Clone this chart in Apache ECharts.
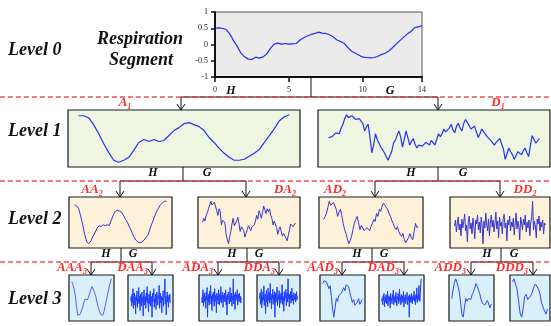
<!DOCTYPE html>
<html>
<head>
<meta charset="utf-8">
<script src="https://cdn.jsdelivr.net/npm/echarts@6/dist/echarts.min.js"></script>
<style>
  html, body { margin: 0; padding: 0; background: #fff; }
  #chart { width: 551px; height: 326px; }
</style>
</head>
<body>
<div id="chart"></div>
<script>
// level 0: respiration segment, x = 0..14 step 0.25
const segment = [0.50,0.51,0.50,0.46,0.33,0.12,-0.05,-0.26,-0.38,-0.45,-0.46,-0.39,-0.42,-0.38,-0.29,-0.12,
  0.01,0.04,0.01,0.03,0.01,0.02,0.03,0.14,0.21,0.26,0.31,0.34,0.38,0.35,0.34,0.30,0.23,0.14,0.09,0.03,
  -0.10,-0.21,-0.27,-0.33,-0.39,-0.40,-0.41,-0.40,-0.37,-0.31,-0.27,-0.20,-0.10,0.01,0.12,0.22,0.32,0.40,0.52,0.54,0.58];
const xTicks = [0, 5, 10, 14];

// level 1
const A1 = [52,52,50,43,34,24,15,7,5,7,10,17,25,28,26,28,26,27,32,37,40,44,45,43,41,37,30,25,19,14,10,7,7,8,11,14,18,25,32,39,47,51,53];
const D1 = [30,28,31,29,35,33,34,40,44,50,54,51,50,53,52,49,51,50,49,45,37,41,44,30,14,22,34,28,24,20,17,14,12,6,4,15,24,27,25,37,
  31,20,28,37,30,22,26,29,23,19,22,24,21,22,25,24,22,27,25,22,28,34,31,34,39,36,35,40,44,38,35,42,45,40,37,45,49,46,44,39,
  41,42,36,30,34,39,36,34,31,30,27,25,22,25,27,29,30,18,7,13,19,15,12,7,11,15,13,12,16,19,14,10,22,32,28,24,26,29];

// level 2
const AA2 = [46,45,42,34,24,13,5,3,6,11,15,20,23,22,24,23,24,23,29,35,39,40,39,38,34,30,26,21,16,11,7,5,4,5,7,10,13,20,26,32,38,42,46,48,50,50];
const DA2 = [26,30,27,33,36,40,38,48,44,43,47,46,38,33,40,37,23,28,30,25,13,8,3,10,16,24,30,22,20,27,31,24,16,21,23,17,10,14,18,22,
  20,17,21,19,23,27,33,29,38,35,30,36,43,39,35,40,37,40,33,30,23,27,26,20,13,18,21,16,11,14,16,9,6,12,18,24,26,21,23,25];
const AD2 = [30,33,36,42,48,44,45,47,46,40,33,37,40,34,26,20,16,11,6,9,13,20,26,30,33,27,20,24,23,19,18,22,21,19,23,26,30,28,36,33,
  40,38,43,46,45,42,40,36,33,29,26,22,20,23,18,15,13,16,10,7,6,12,16,12,10,18,26,22,23];
const DD2 = [24,30,18,27,33,20,26,14,31,22,28,36,19,25,8,29,34,21,27,16,32,24,11,30,26,35,20,28,17,33,25,6,29,22,37,26,19,31,14,27,
  35,23,30,18,26,38,21,29,12,33,24,28,16,31,36,22,27,9,30,25,34,19,28,23,32,15,26,37,21,29,24,10,33,27,20,31,25,35,18,28,
  22,30,14,27,33,49,20,29,24,12,31,26,34,19,28,23,30,16,27,25];

// level 3
const AAA3 = [41,38,33,26,15,6,4,7,9,14,19,23,22,22,25,29,33,36,34,30,26,20,15,11,7,5,6,10,16,22,28,34,39,44];
const DAA3 = [24,28,19,30,22,35,17,26,31,20,27,12,29,24,33,18,26,22,36,21,28,15,30,25,19,32,23,27,10,29,34,20,25,28,17,31,24,37,22,26,
  14,30,27,21,33,19,28,25,9,31,23,29,35,18,26,22,30,16,27,32,24,20,29,26,38,17,25,31,22,28,13,27,24,33,19,26,30,44,21,28,
  11,25,32,23,29,18,27,24,30,22];
const ADA3 = [26,21,29,33,18,25,30,22,27,16,31,24,35,8,26,22,29,19,32,25,37,20,27,14,29,23,31,26,18,34,22,28,25,12,30,24,27,20,33,26,
  19,29,23,36,21,27,25,31,17,28,24,30,22,26,33,19,27,10,29,24,31,26,20,28,35,22,25,30,18,27,24,43,20,29,26,15,31,23,28,25,
  33,19,26,29,22,30,24,27,21,26];
const DDA3 = [25,30,20,28,33,17,26,22,31,24,36,19,27,29,12,25,32,22,28,18,34,26,23,30,21,38,24,27,16,29,25,33,20,28,23,31,9,26,30,22,
  27,35,19,25,28,24,32,17,29,26,21,30,24,37,20,27,25,14,31,23,28,26,33,19,27,30,22,42,25,28,18,29,24,31,21,26,34,23,28,25,
  20,30,27,24,29,22,26,31,24,27];
const AAD3 = [38,41,43,40,42,33,36,25,12,4,14,23,20,26,24,28,30,34,31,37,39,35,29,24,19,22,16,14,19,23,17,19,22];
const DAD3 = [24,27,21,29,25,31,19,26,28,23,30,22,27,33,20,26,29,24,28,18,31,25,27,22,30,26,34,21,27,24,29,23,32,25,20,28,26,31,22,27,
  35,24,28,21,30,26,23,29,25,33,19,27,24,30,22,28,26,32,21,27,25,29,10,30,24,28,23,31,26,22,29,25,27,33,24,28,21,30,26,36,
  23,29,25,31,38,27,24,32,40,44];
const ADD3 = [23,32,39,44,40,36,29,18,6,3,14,23,20,23,25,22,27,30,34,39,36,32,28,22,18,20,16,14,21,23,13,17];
const DDD3 = [40,43,38,33,22,10,6,14,26,28,23,25,27,30,35,38,36,33,29,20,16,12,9,14];

const serif = '"Liberation Serif", "DejaVu Serif", serif';
const bg1 = '#eef5e1', bg2 = '#fdf2d9', bg3 = '#d9effa';

// [data, left, top, width, height, background, line colour, x padding]
const panels = [
  [A1, 68, 110, 232, 57, bg1, '#2632f2', 0.05],
  [D1, 318, 110, 232, 57, bg1, '#2632f2', 0.05],
  [AA2, 69, 197, 103, 51, bg2, '#3535d0', 0.06],
  [DA2, 198, 197, 102, 51, bg2, '#3535d0', 0.05],
  [AD2, 319, 197, 104, 51, bg2, '#3535d0', 0.05],
  [DD2, 450, 197, 100, 51, bg2, '#3535d0', 0.05],
  [AAA3, 69, 275, 45, 46, bg3, '#4a64ff', 0.07],
  [DAA3, 128, 275, 45, 46, bg3, '#1f3dff', 0.07],
  [ADA3, 199, 275, 45, 46, bg3, '#1f3dff', 0.07],
  [DDA3, 257, 275, 43, 46, bg3, '#1f3dff', 0.07],
  [AAD3, 320, 275, 45, 46, bg3, '#2a48ff', 0.07],
  [DAD3, 379, 275, 45, 46, bg3, '#1f3dff', 0.07],
  [ADD3, 449, 275, 45, 46, bg3, '#2a48ff', 0.07],
  [DDD3, 510, 275, 40, 46, bg3, '#2a48ff', 0.07]
];

const grid = [{
  left: 215, top: 12, width: 207, height: 65, show: true,
  backgroundColor: '#ebebeb', borderColor: '#555', borderWidth: 1
}];
const xAxis = [{
  type: 'value', gridIndex: 0, min: 0, max: 14,
  axisLine: { onZero: false, lineStyle: { color: '#111', width: 2 } },
  axisTick: { length: 5, lineStyle: { color: '#111', width: 1.5 }, customValues: xTicks },
  axisLabel: { fontFamily: serif, fontSize: 8, color: '#222', margin: 9, customValues: xTicks },
  splitLine: { show: false }
}];
const yAxis = [{
  type: 'value', gridIndex: 0, min: -1, max: 1, interval: 0.5,
  axisLine: { show: true, onZero: false, lineStyle: { color: '#111', width: 2 } },
  axisTick: { show: true, length: 4, lineStyle: { color: '#111', width: 1.5 } },
  axisLabel: { fontFamily: serif, fontSize: 8, color: '#222', margin: 7 },
  splitLine: { show: false }
}];
const series = [{
  type: 'line', xAxisIndex: 0, yAxisIndex: 0, showSymbol: false, silent: true,
  data: segment.map((v, i) => [i * 0.25, v]),
  lineStyle: { color: '#1e2cff', width: 1.2 }
}];

panels.forEach((p, k) => {
  const [data, left, top, width, height, bg, color, px] = p;
  const i = k + 1;
  const n = data.length - 1;
  const lo = Math.min(...data), hi = Math.max(...data);
  const pad = (hi - lo) * 0.1;
  grid.push({ left, top, width, height, show: true, backgroundColor: bg, borderColor: '#1a1a1a', borderWidth: 1.2 });
  xAxis.push({ type: 'value', gridIndex: i, min: -n * px, max: n * (1 + px), show: false });
  yAxis.push({ type: 'value', gridIndex: i, min: lo - pad, max: hi + pad, show: false });
  series.push({
    type: 'line', xAxisIndex: i, yAxisIndex: i, showSymbol: false, silent: true,
    data: data.map((v, j) => [j, v]),
    lineStyle: { color, width: i <= 2 ? 1.2 : 1 }
  });
});

// tree connectors and labels
const ink = '#111';
const g = [];
function seg(x1, y1, x2, y2) {
  g.push({ type: 'line', silent: true, shape: { x1, y1, x2, y2 }, style: { stroke: ink, lineWidth: 1 } });
}
function arrow(x, y1, y2) {
  seg(x, y1, x, y2);
  g.push({ type: 'polyline', silent: true, shape: { points: [[x - 4, y2 - 6], [x, y2], [x + 4, y2 - 6]] },
    style: { stroke: ink, lineWidth: 1, fill: null } });
}
function fork(cx, y0, yBar, xl, xr, yTip, hx, gx) {
  seg(cx, y0, cx, yBar);
  seg(xl, yBar, xr, yBar);
  arrow(xl, yBar, yTip);
  arrow(xr, yBar, yTip);
  hg('H', hx, yBar - 8);
  hg('G', gx, yBar - 8);
}
function hg(t, x, y) {
  g.push({ type: 'text', silent: true, style: { text: t, x, y, align: 'center', verticalAlign: 'middle',
    font: 'italic bold 12px ' + serif, fill: '#111' } });
}
function big(t, x, y, align) {
  g.push({ type: 'text', silent: true, style: { text: t, x, y, align: align || 'left', verticalAlign: 'middle',
    font: 'italic bold 18px ' + serif, fill: '#111' } });
}
function tag(main, sub, x, y, align, size) {
  g.push({ type: 'text', silent: true, style: {
    text: '{m|' + main + '}{s|' + sub + '}', x, y, align: align || 'center', verticalAlign: 'middle',
    rich: {
      m: { fontFamily: serif, fontStyle: 'italic', fontWeight: 'bold', fontSize: size, fill: '#ff2a2a', lineHeight: size + 2 },
      s: { fontFamily: serif, fontStyle: 'italic', fontWeight: 'bold', fontSize: Math.round(size * 0.62), fill: '#ff2a2a',
           verticalAlign: 'bottom', lineHeight: size + 2 }
    }
  } });
}

// level 0 -> 1
seg(311, 77, 311, 97);
seg(181, 97, 438, 97);
arrow(181, 97, 110);
arrow(438, 97, 110);
hg('H', 231, 91);
hg('G', 390, 91);
// level 1 -> 2
fork(183, 167, 181, 120, 246, 197, 153, 207);
fork(438, 167, 181, 375, 500, 197, 411, 463);
// level 2 -> 3
fork(121, 248, 262, 91, 152, 275, 106, 133);
fork(247, 248, 262, 218, 279, 275, 232, 259);
fork(372, 248, 262, 342, 404, 275, 357, 384);
fork(501, 248, 262, 471, 533, 275, 487, 514);

// red dashed level separators
[97, 181, 262].forEach(y => {
  g.push({ type: 'line', silent: true, shape: { x1: 0, y1: y, x2: 551, y2: y },
    style: { stroke: '#f23030', lineWidth: 1.3, lineDash: [5, 3], opacity: 0.85 } });
});

big('Level 0', 8, 50);
big('Level 1', 8, 131);
big('Level 2', 8, 219);
big('Level 3', 8, 299);
big('Respiration', 140, 39, 'center');
big('Segment', 141, 60, 'center');

tag('A', '1', 125, 103, 'center', 13);
tag('D', '1', 498, 103, 'center', 13);
tag('AA', '2', 92, 190, 'center', 13);
tag('DA', '2', 285, 190, 'center', 13);
tag('AD', '2', 335, 190, 'center', 13);
tag('DD', '2', 525, 190, 'center', 13);
tag('AAA', '3', 87, 268, 'right', 13);
tag('DAA', '3', 148, 268, 'right', 13);
tag('ADA', '3', 213, 268, 'right', 13);
tag('DDA', '3', 275, 268, 'right', 13);
tag('AAD', '3', 338, 268, 'right', 13);
tag('DAD', '3', 399, 268, 'right', 13);
tag('ADD', '3', 466, 268, 'right', 13);
tag('DDD', '3', 528, 268, 'right', 13);

const chart = echarts.init(document.getElementById('chart'), null, { renderer: 'canvas' });
chart.setOption({
  animation: false,
  grid, xAxis, yAxis, series,
  graphic: g
});
</script>
</body>
</html>
